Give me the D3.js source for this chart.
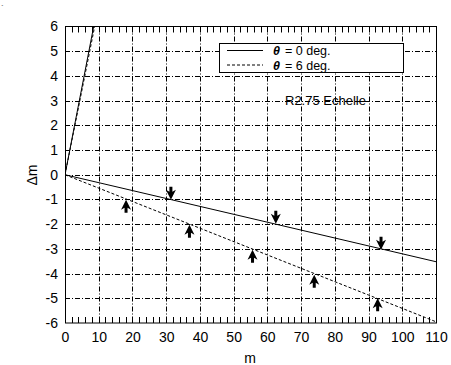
<!DOCTYPE html>
<html><head><meta charset="utf-8">
<script src="https://cdn.jsdelivr.net/npm/d3@7"></script>
<style>body{margin:0;background:#fff}svg text{font-family:"Liberation Sans",Arial,sans-serif;fill:#000}</style>
</head><body><svg id="c" width="451" height="365"></svg>
<script>
const xTicks=[0,10,20,30,40,50,60,70,80,90,100,110];
const yTicks=[-6,-5,-4,-3,-2,-1,0,1,2,3,4,5,6];
const theta0Line=[[0,0],[110,-3.52]];
const theta0Steep=[[0,0],[8.5,6]];
const theta6Line=[[0,0],[110,-5.95]];
const theta6Steep=[[0,0],[8.8,6]];
const downArrows=[[31.4,-0.73],[62.5,-1.7],[93.7,-2.75]];
const upArrows=[[18.1,-1.3],[36.9,-2.31],[55.6,-3.32],[73.9,-4.33],[92.7,-5.28]];
const legendLabels=["= 0 deg.","= 6 deg."];

const svg=d3.select("#c");
const L=65,R=436,T=26.5,B=323;
const x=d3.scaleLinear().domain([0,110]).range([L,R]);
const y=d3.scaleLinear().domain([-6,6]).range([B,T]);
const g=svg.append("g");
// grid
g.selectAll(".gx").data(xTicks.slice(1,-1)).enter().append("line")
 .attr("x1",d=>Math.round(x(d))+0.5).attr("x2",d=>Math.round(x(d))+0.5).attr("y1",T).attr("y2",B)
 .attr("stroke","#000").attr("stroke-width",1).attr("stroke-dasharray","5,2,1,2");
g.selectAll(".gy").data(yTicks.slice(1,-1)).enter().append("line")
 .attr("y1",d=>Math.round(y(d))+0.5).attr("y2",d=>Math.round(y(d))+0.5).attr("x1",L).attr("x2",R)
 .attr("stroke","#000").attr("stroke-width",1).attr("stroke-dasharray","5,2,1,2");
// minor ticks top/bottom
const minor=d3.range(0,111,2);
g.selectAll(".mb").data(minor).enter().append("line")
 .attr("x1",d=>Math.round(x(d))+0.5).attr("x2",d=>Math.round(x(d))+0.5).attr("y1",B).attr("y2",B-6)
 .attr("stroke","#000");
g.selectAll(".mt").data(minor).enter().append("line")
 .attr("x1",d=>Math.round(x(d))+0.5).attr("x2",d=>Math.round(x(d))+0.5).attr("y1",T).attr("y2",T+6)
 .attr("stroke","#000");
// frame
g.append("rect").attr("x",L+0.5).attr("y",T).attr("width",R-L).attr("height",B-T)
 .attr("fill","none").attr("stroke","#000").attr("stroke-width",1);
// axes labels
const xa=d3.axisBottom(x).tickValues(xTicks).tickSize(0).tickPadding(6).tickFormat(d=>String(d));
const xg=svg.append("g").attr("transform",`translate(0,${B})`).call(xa);
xg.select(".domain").remove();
xg.selectAll("text").attr("font-size",14).attr("font-family","Liberation Sans, Arial, sans-serif").attr("dy","0.95em");
const ya=d3.axisLeft(y).tickValues(yTicks).tickSize(0).tickPadding(7).tickFormat(d=>String(d));
const yg=svg.append("g").attr("transform",`translate(${L},0)`).call(ya);
yg.select(".domain").remove();
yg.selectAll("text").attr("font-size",14).attr("font-family","Liberation Sans, Arial, sans-serif");
svg.append("text").attr("x",250).attr("y",363).attr("text-anchor","middle").attr("font-size",14).text("m");
svg.append("text").attr("transform","translate(37,175) rotate(-90)").attr("text-anchor","middle").attr("font-size",14).text("Δm");
svg.append("text").attr("x",1).attr("y",10).attr("font-size",8).text("`");
// lines
const line=d3.line().x(d=>x(d[0])).y(d=>y(d[1]));
svg.append("clipPath").attr("id","cp").append("rect").attr("x",L).attr("y",T).attr("width",R-L).attr("height",B-T);
const lg=svg.append("g").attr("clip-path","url(#cp)");
[[theta0Line,null],[theta0Steep,null],[theta6Line,"3,2"],[theta6Steep,"3,2"]].forEach(([d,da])=>{
 lg.append("path").attr("d",line(d)).attr("fill","none").attr("stroke","#000").attr("stroke-width",1)
  .attr("stroke-dasharray",da);
});
// arrows
const upPath="M0,-7L5,3L1.5,1L1.5,6L-1.5,6L-1.5,1L-5,3Z";
const downPath="M0,7L5,-3L1.5,-1L1.5,-6L-1.5,-6L-1.5,-1L-5,-3Z";
svg.selectAll(".ua").data(upArrows).enter().append("path").attr("d",upPath)
 .attr("transform",d=>`translate(${x(d[0])},${y(d[1])})`).attr("fill","#000");
svg.selectAll(".da").data(downArrows).enter().append("path").attr("d",downPath)
 .attr("transform",d=>`translate(${x(d[0])},${y(d[1])})`).attr("fill","#000");
// legend
svg.append("rect").attr("x",219.5).attr("y",43.5).attr("width",184).attr("height",29).attr("fill","#fff").attr("stroke","#000");
legendLabels.forEach((lab,i)=>{
 const yy=50.5+i*14.5;
 svg.append("line").attr("x1",227).attr("x2",263).attr("y1",yy).attr("y2",yy).attr("stroke","#000")
  .attr("stroke-dasharray",i?"3,2":null);
 svg.append("text").attr("x",273).attr("y",yy+4.5).attr("font-size",12.5).attr("font-style","italic").attr("font-weight","bold").text("θ");
 svg.append("text").attr("x",285).attr("y",yy+4.5).attr("font-size",12.5).text(lab);
});
svg.append("text").attr("x",285).attr("y",105).attr("font-size",13).text("R2.75 Echelle");
</script></body></html>
